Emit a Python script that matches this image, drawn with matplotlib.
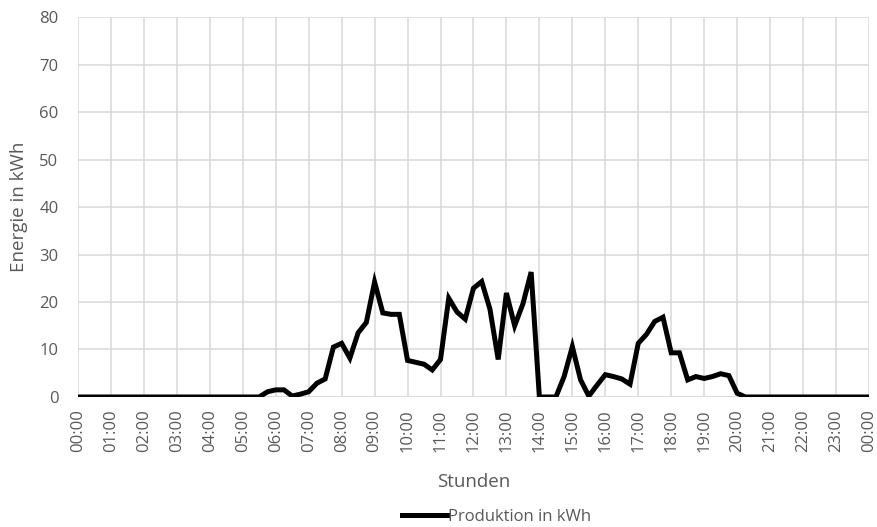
import numpy as np
import matplotlib
matplotlib.use('Agg')
import matplotlib.pyplot as plt

# 15-minute values from 00:00 to 24:00 (97 points)
night_morning = [0.0] * 22  # 00:00 .. 05:15
day_values = [
    0.0, 1.1, 1.5, 1.5, 0.2, 0.6, 1.1, 2.9, 3.8, 10.5,   # 05:30 .. 07:45
    11.3, 8.2, 13.5, 15.7, 24.2, 17.7, 17.4, 17.4,      # 08:00 .. 09:45
    7.7, 7.3, 6.9, 5.7, 7.9, 20.8, 17.9, 16.4,          # 10:00 .. 11:45
    22.9, 24.3, 18.5, 7.9, 21.9, 15.0, 19.6, 26.3,      # 12:00 .. 13:45
    0.0, 0.0, 0.0, 4.3, 10.6, 3.6, 0.2, 2.5,            # 14:00 .. 15:45
    4.7, 4.3, 3.8, 2.7, 11.3, 13.2, 15.9, 16.8,         # 16:00 .. 17:45
    9.3, 9.3, 3.6, 4.3, 3.9, 4.3, 4.9, 4.5,             # 18:00 .. 19:45
    0.8,                                                # 20:00
]
evening = [0.0] * (97 - len(night_morning) - len(day_values))
produktion = night_morning + day_values + evening

hour_labels = ['{:02d}:00'.format(h % 24) for h in range(25)]
y_ticks = [0, 10, 20, 30, 40, 50, 60, 70, 80]

plt.rcParams['font.family'] = ['Open Sans', 'DejaVu Sans']
grey = '#595959'

fig = plt.figure(figsize=(8.78, 5.27), dpi=100)
ax = fig.add_axes([0.0888, 0.2467, 0.9009, 0.721])

x = np.arange(len(produktion))
ax.plot(x, produktion, color='black', linewidth=3.6, label='Produktion in kWh',
        solid_joinstyle='miter', zorder=3)

ax.set_xlim(0, 96)
ax.set_ylim(0, 80)
ax.set_xticks(np.arange(0, 97, 4))
ax.set_xticklabels(hour_labels, rotation=90, fontsize=12, color=grey)
ax.set_yticks(y_ticks)
ax.set_yticklabels([str(v) for v in y_ticks], fontsize=12, color=grey)
ax.tick_params(axis='both', length=0)
ax.tick_params(axis='x', pad=9)
ax.tick_params(axis='y', pad=14)

ax.grid(True, color='#d9d9d9', linewidth=1.1, zorder=0)
for s in ax.spines.values():
    s.set_visible(False)
ax.axhline(0, color='#d9d9d9', linewidth=1.1, zorder=1)

ax.set_xlabel('Stunden', fontsize=13.5, color=grey, labelpad=15)
ax.set_ylabel('Energie in kWh', fontsize=13.5, color=grey, labelpad=8)

fig.legend(loc='center', bbox_to_anchor=(0.5655, 0.019), frameon=False,
           fontsize=12, handlelength=2.7, handletextpad=0.1,
           labelcolor=grey)

fig.savefig('out.png', dpi=100)
